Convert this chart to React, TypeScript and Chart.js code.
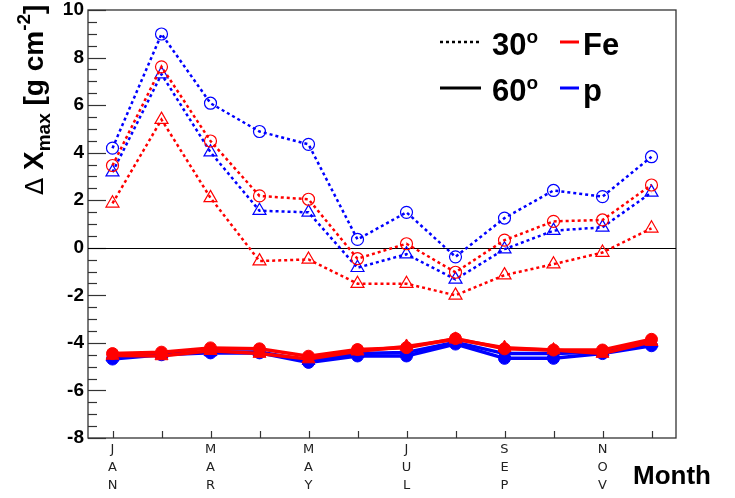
import { useEffect, useRef } from 'react';
import { Chart, registerables } from 'chart.js';

Chart.register(...registerables);

// month labels, stacked letters, only every second month is written
const months = [
  ['J', 'A', 'N'], [''], ['M', 'A', 'R'], [''], ['M', 'A', 'Y'], [''],
  ['J', 'U', 'L'], [''], ['S', 'E', 'P'], [''], ['N', 'O', 'V'], [''],
];

// zenith 30 deg (dotted, open markers)
const p30Circle = [4.19, 8.99, 6.08, 4.89, 4.35, 0.35, 1.49, -0.38, 1.25, 2.41, 2.15, 3.83];
const fe30Circle = [3.46, 7.61, 4.49, 2.18, 2.04, -0.46, 0.17, -1.03, 0.32, 1.11, 1.17, 2.64];
const p30Tri = [3.18, 7.3, 4.02, 1.56, 1.49, -0.84, -0.27, -1.33, -0.06, 0.72, 0.86, 2.33];
const fe30Tri = [1.87, 5.39, 2.1, -0.56, -0.49, -1.51, -1.51, -2.0, -1.15, -0.69, -0.2, 0.82];

// zenith 60 deg (solid, filled markers)
const fe60Circle = [-4.45, -4.39, -4.21, -4.25, -4.56, -4.28, -4.2, -3.82, -4.25, -4.3, -4.3, -3.85];
const fe60Tri = [-4.53, -4.55, -4.33, -4.45, -4.68, -4.35, -4.15, -3.85, -4.2, -4.3, -4.45, -3.95];
const p60Circle = [-4.68, -4.5, -4.42, -4.42, -4.82, -4.55, -4.55, -4.05, -4.65, -4.65, -4.45, -4.12];
const p60Tri = [-4.6, -4.48, -4.38, -4.38, -4.75, -4.45, -4.4, -3.98, -4.45, -4.45, -4.38, -4.0];

const yTicks = [-8, -6, -4, -2, 0, 2, 4, 6, 8, 10];

const RED = '#ff0000';
const BLUE = '#0000ff';
const FONT = '"Liberation Sans", Arial, sans-serif';

const frame = {
  id: 'frame',
  beforeDatasetsDraw(chart: any) {
    const { ctx, chartArea: a, scales } = chart;
    const y = scales.y;
    const x = scales.x;
    ctx.save();
    ctx.strokeStyle = '#333';
    ctx.lineWidth = 1.3;
    ctx.strokeRect(a.left, a.top, a.right - a.left, a.bottom - a.top);
    // y ticks inside the frame, majors and minors
    ctx.lineWidth = 1.2;
    for (let v = yTicks[0]; v <= yTicks[yTicks.length - 1]; v += 0.5) {
      const py = Math.round(y.getPixelForValue(v)) + 0.5;
      const len = yTicks.includes(v) ? 18 : 9;
      ctx.beginPath();
      ctx.moveTo(a.left, py);
      ctx.lineTo(a.left + len, py);
      ctx.stroke();
    }
    // x ticks, one per month
    for (let i = 0; i < months.length; i++) {
      const px = Math.round(x.getPixelForTick(i)) + 0.5;
      ctx.beginPath();
      ctx.moveTo(px, a.bottom);
      ctx.lineTo(px, a.bottom - 7);
      ctx.stroke();
    }
    // zero line
    const zy = Math.round(y.getPixelForValue(0)) + 0.5;
    ctx.strokeStyle = '#000';
    ctx.lineWidth = 1;
    ctx.beginPath();
    ctx.moveTo(a.left, zy);
    ctx.lineTo(a.right, zy);
    ctx.stroke();
    ctx.restore();
  },
  afterDraw(chart: any) {
    const { ctx } = chart;
    ctx.save();
    ctx.fillStyle = '#000';
    ctx.textBaseline = 'alphabetic';

    // x title
    ctx.font = `bold 26px ${FONT}`;
    ctx.textAlign = 'left';
    ctx.fillText('Month', 633, 484);

    // y title, rotated, with sub- and superscript
    ctx.translate(43, 195);
    ctx.rotate(-Math.PI / 2);
    let u = 0;
    const put = (t: string, font: string, dy: number) => {
      ctx.font = font;
      ctx.fillText(t, u, dy);
      u += ctx.measureText(t).width;
    };
    put('Δ ', `25px "DejaVu Sans", sans-serif`, 0);
    put('X', `bold 28px ${FONT}`, 0);
    put('max', `bold 19px ${FONT}`, 7);
    put(' [g cm', `bold 28px ${FONT}`, 0);
    put('-2', `bold 19px ${FONT}`, -13);
    put(']', `bold 28px ${FONT}`, 0);
    ctx.setTransform(1, 0, 0, 1, 0, 0);
    ctx.scale(chart.currentDevicePixelRatio, chart.currentDevicePixelRatio);

    // legend
    const rows = [
      { y: 42, dash: [3, 3], deg: '30', name: 'Fe', color: RED },
      { y: 88, dash: [], deg: '60', name: 'p', color: BLUE },
    ];
    for (const r of rows) {
      ctx.strokeStyle = '#000';
      ctx.lineWidth = r.dash.length ? 2.5 : 3;
      ctx.setLineDash(r.dash);
      ctx.beginPath();
      ctx.moveTo(440, r.y);
      ctx.lineTo(481, r.y);
      ctx.stroke();
      ctx.setLineDash([]);
      ctx.font = `bold 31px ${FONT}`;
      ctx.fillText(r.deg, 492, r.y + 13);
      const w = ctx.measureText(r.deg).width;
      ctx.font = `bold 19px ${FONT}`;
      ctx.fillText('o', 492 + w, r.y + 1);
      ctx.strokeStyle = r.color;
      ctx.lineWidth = 3;
      ctx.beginPath();
      ctx.moveTo(560, r.y);
      ctx.lineTo(579, r.y);
      ctx.stroke();
      ctx.font = `bold 31px ${FONT}`;
      ctx.fillText(r.name, 583, r.y + 13);
    }
    ctx.restore();
  },
};

function series(label: string, data: number[], color: string, style: string, deg30: boolean) {
  const tri = style === 'triangle';
  return {
    label,
    data,
    borderColor: color,
    backgroundColor: deg30 ? 'rgba(0,0,0,0)' : color,
    borderWidth: deg30 ? 2.5 : 3.5,
    borderDash: deg30 ? [3, 3] : [],
    pointStyle: style,
    pointRadius: tri ? 7.5 : 6,
    pointBorderWidth: deg30 ? 1.2 : 1,
    pointBorderColor: color,
    pointBackgroundColor: deg30 ? 'rgba(0,0,0,0)' : color,
    tension: 0,
    fill: false,
  };
}

export default function App() {
  const canvasRef = useRef<HTMLCanvasElement>(null);

  useEffect(() => {
    if (!canvasRef.current) return;
    const chart = new Chart(canvasRef.current, {
      type: 'line',
      data: {
        labels: months,
        datasets: [
          series('Fe 60 circle', fe60Circle, RED, 'circle', false),
          series('Fe 60 triangle', fe60Tri, RED, 'triangle', false),
          series('p 60 circle', p60Circle, BLUE, 'circle', false),
          series('p 60 triangle', p60Tri, BLUE, 'triangle', false),
          series('p 30 circle', p30Circle, BLUE, 'circle', true),
          series('Fe 30 circle', fe30Circle, RED, 'circle', true),
          series('p 30 triangle', p30Tri, BLUE, 'triangle', true),
          series('Fe 30 triangle', fe30Tri, RED, 'triangle', true),
        ],
      },
      options: {
        responsive: true,
        maintainAspectRatio: false,
        animation: false,
        layout: { padding: { left: 0, right: 59, top: 10, bottom: 0 } },
        plugins: {
          legend: { display: false },
          tooltip: { enabled: false },
        },
        scales: {
          x: {
            type: 'category',
            offset: true,
            grid: { display: false, drawTicks: false },
            border: { display: false },
            ticks: {
              autoSkip: false,
              maxRotation: 0,
              minRotation: 0,
              padding: 3,
              color: '#222',
              font: { family: '"DejaVu Sans", sans-serif', size: 13, lineHeight: 1.38 },
            },
            afterFit: (s: any) => {
              s.height = 60;
              s.paddingLeft = 0;
              s.paddingRight = 0;
            },
          },
          y: {
            min: -8,
            max: 10,
            afterBuildTicks: (s: any) => {
              s.ticks = yTicks.map((v) => ({ value: v }));
            },
            grid: { display: false, drawTicks: false },
            border: { display: false },
            ticks: {
              padding: 4,
              color: '#000',
              font: { family: FONT, size: 19, weight: 'bold' },
            },
            afterFit: (s: any) => {
              s.width = 88;
              s.paddingTop = 0;
              s.paddingBottom = 0;
            },
          },
        },
      },
      plugins: [frame],
    });
    return () => chart.destroy();
  }, []);

  return (
    <div style={{ position: 'fixed', left: 0, top: 0, width: 735, height: 498, background: '#fff' }}>
      <canvas ref={canvasRef}></canvas>
    </div>
  );
}
